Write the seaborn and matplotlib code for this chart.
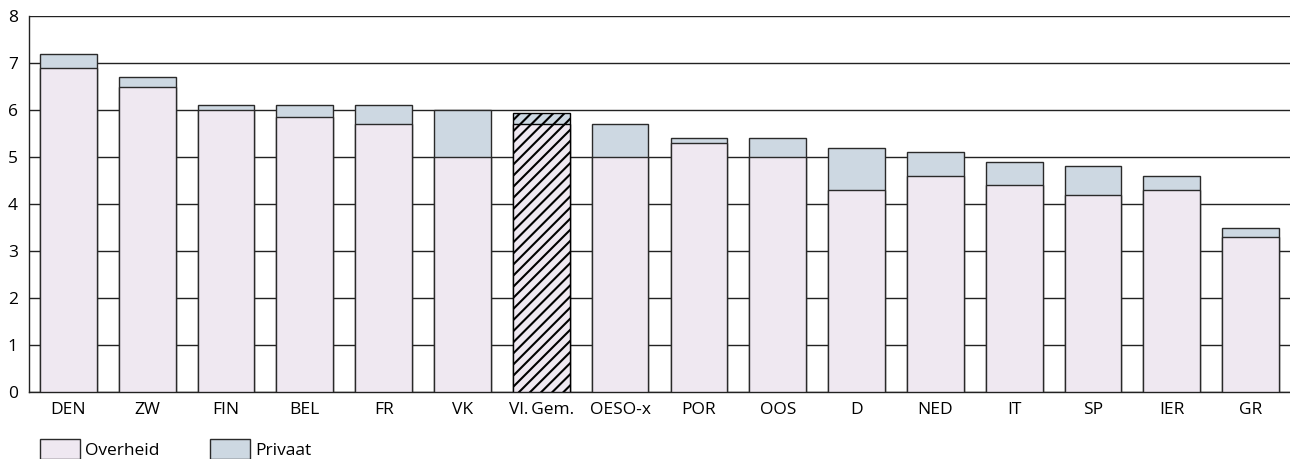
import matplotlib
matplotlib.use("Agg")
import matplotlib.pyplot as plt
import seaborn as sns
import numpy as np
from matplotlib.patches import Patch
from matplotlib.ticker import FixedLocator

landen = ['DEN', 'ZW', 'FIN', 'BEL', 'FR', 'VK', 'Vl.\u2009Gem.', 'OESO-x', 'POR',
          'OOS', 'D', 'NED', 'IT', 'SP', 'IER', 'GR']
overheid = [6.9, 6.5, 6.0, 5.85, 5.7, 5.0, 5.7, 5.0, 5.3, 5.0, 4.3, 4.6, 4.4, 4.2, 4.3, 3.3]
totaal = [7.2, 6.7, 6.1, 6.1, 6.1, 6.0, 5.94, 5.7, 5.4, 5.4, 5.2, 5.1, 4.9, 4.8, 4.6, 3.5]

kleur_overheid = '#efe8f1'
kleur_privaat = '#cdd8e2'
rand = '#2a2a2a'

sns.set_style("white")
plt.rcParams['font.family'] = ['Open Sans', 'DejaVu Sans']
plt.rcParams['hatch.linewidth'] = 1.5
plt.rcParams['text.color'] = 'black'

fig = plt.figure(figsize=(12.9, 4.59), dpi=100)
ax = fig.add_axes([0.0225, 0.146, 0.9775, 0.819])

sns.barplot(x=landen, y=totaal, color=kleur_privaat, edgecolor=rand,
            linewidth=1, width=0.72, saturation=1, ax=ax, zorder=2)
sns.barplot(x=landen, y=overheid, color=kleur_overheid, edgecolor=rand,
            linewidth=1, width=0.72, saturation=1, ax=ax, zorder=3)

# Vlaamse Gemeenschap gearceerd
idx = 6
for p in (ax.patches[idx], ax.patches[len(landen) + idx]):
    p.set_hatch('///')
    p.set_edgecolor('black')

ax.set_ylim(0, 8)
ax.set_xlim(-0.5, 15.5)
ax.set_yticks(range(0, 9))
ax.yaxis.grid(True, color='#222222', linewidth=1)
ax.set_axisbelow(True)
for s in ['top', 'right']:
    ax.spines[s].set_visible(False)
for s in ['left', 'bottom']:
    ax.spines[s].set_color('#222222')
    ax.spines[s].set_linewidth(1)

ax.xaxis.set_minor_locator(FixedLocator(np.arange(0.5, 16, 1)))
ax.tick_params(axis='x', which='major', length=0, labelsize=12.5, pad=7,
               labelcolor='black')
ax.tick_params(axis='x', which='minor', direction='in', length=6, width=1, color='#222222')
ax.tick_params(axis='y', length=0, labelsize=12.5, pad=8, labelcolor='black')

handles = [Patch(facecolor=kleur_overheid, edgecolor=rand, label='Overheid'),
           Patch(facecolor=kleur_privaat, edgecolor=rand, label='Privaat')]
fig.legend(handles=handles, loc='upper left', bbox_to_anchor=(0.031, 0.043),
           ncol=2, frameon=False, fontsize=12.5, handlelength=2.3, handleheight=1.4,
           handletextpad=0.3, columnspacing=2.9, borderaxespad=0, borderpad=0)

fig.savefig('out.png', dpi=100)
